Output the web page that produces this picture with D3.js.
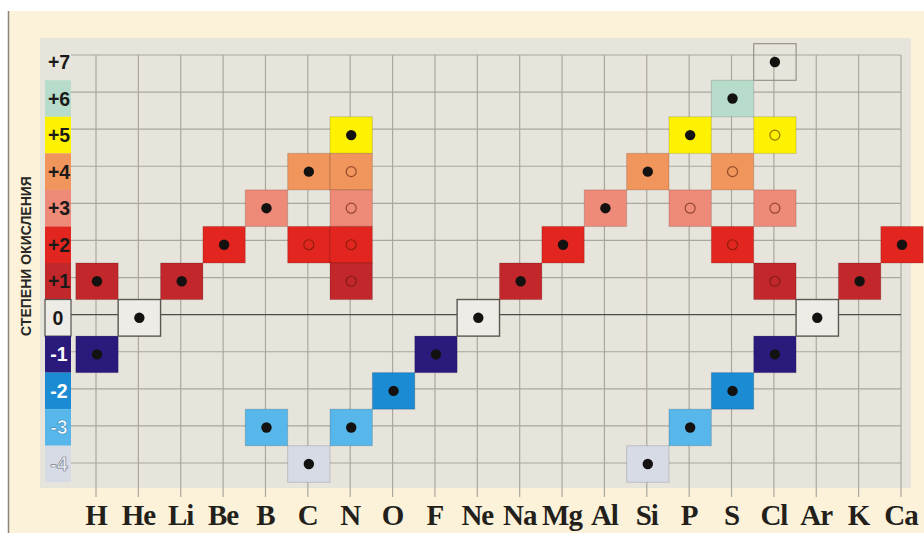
<!DOCTYPE html>
<html><head><meta charset="utf-8">
<script src="https://cdn.jsdelivr.net/npm/d3@7"></script>
<style>html,body{margin:0;padding:0;background:#fff;}svg{display:block;}</style>
</head><body>
<script>
// ---- data ----
const elements = ["H","He","Li","Be","B","C","N","O","F","Ne","Na","Mg","Al","Si","P","S","Cl","Ar","K","Ca"];
const states = [7,6,5,4,3,2,1,0,-1,-2,-3,-4];
const stateLabels = ["+7","+6","+5","+4","+3","+2","+1","0","-1","-2","-3","-4"];
const stateColors = ["none","#b7dccb","#fff200","#f0955c","#ee8a78","#e2261f","#c1272b","#eeece6","#2a1a7c","#1b8bd3","#57b7ea","#d6dbe6"];
// characteristic (filled dot) oxidation states per element
const filledStates = [[1,-1],[0],[1],[2],[3,-3],[4,-4],[5,-3],[-2],[-1],[0],[1],[2],[3],[4,-4],[5,-3],[6,-2],[7,-1],[0],[1],[2]];
// other (open circle) oxidation states per element
const openStates = [[],[],[],[],[],[2],[4,3,2,1],[],[],[],[],[],[],[],[3],[4,2],[5,3,1],[],[],[]];
const axisTitle = "СТЕПЕНИ ОКИСЛЕНИЯ";

// ---- layout ----
const W = 924, H = 533;
const svg = d3.select("body").append("svg").attr("width", W).attr("height", H);

const x = d3.scalePoint().domain(elements).range([96, 901]);
const y = d3.scalePoint().domain(states).range([62, 464]);
const yGrid = d3.scaleLinear().domain([7, -4]).range([55, 463]);
const cw = 42.4, ch = 36.6;
const colorOf = d3.scaleOrdinal().domain(states).range(stateColors);
const labelOf = d3.scaleOrdinal().domain(states).range(stateLabels);

// backgrounds
svg.append("rect").attr("x", 9).attr("y", 11).attr("width", W - 9).attr("height", H - 11).attr("fill", "#fcf2da");
svg.append("line").attr("x1", 8.5).attr("x2", 8.5).attr("y1", 11).attr("y2", H).attr("stroke", "#8a857c").attr("stroke-width", 1.5);
svg.append("rect").attr("x", 40).attr("y", 38).attr("width", 871).attr("height", 450).attr("fill", "#e7e5db");

// grid
const g = svg.append("g");
g.selectAll("line.v").data(elements).join("line")
  .attr("x1", d => x(d)).attr("x2", d => x(d))
  .attr("y1", yGrid(7)).attr("y2", 497)
  .attr("stroke", "#aaa79e").attr("stroke-width", 1.2);
g.selectAll("line.h").data(states).join("line")
  .attr("x1", 71).attr("x2", x("Ca"))
  .attr("y1", d => yGrid(d)).attr("y2", d => yGrid(d))
  .attr("stroke", d => d === 0 ? "#4e4c48" : "#aaa79e")
  .attr("stroke-width", d => d === 0 ? 1.3 : 1.2);

// left label column
const lab = svg.append("g");
lab.selectAll("rect").data(states.filter(s => s !== 7)).join("rect")
  .attr("x", 45).attr("width", 26)
  .attr("y", d => y(d) - ch / 2).attr("height", ch)
  .attr("fill", d => colorOf(d))
  .attr("stroke", d => d === 0 ? "#55524c" : "none").attr("stroke-width", 1.2);
lab.selectAll("text").data(states).join("text")
  .attr("x", d => d === 0 ? 58 : 59).attr("y", d => y(d) + 7)
  .attr("text-anchor", "middle")
  .attr("font-family", "Liberation Sans, Arial, sans-serif").attr("font-weight", "bold").attr("font-size", 19.5)
  .attr("fill", d => d < 0 ? (d === -4 ? "#eef0f4" : "#ffffff") : "#1c1a18")
  .attr("stroke", d => d === -4 ? "#7d8390" : (d === -3 ? "#3a8cc0" : "none"))
  .attr("stroke-width", 0.7)
  .text(d => labelOf(d));

svg.append("text")
  .attr("transform", "translate(31,256) rotate(-90)")
  .attr("text-anchor", "middle")
  .attr("font-family", "Liberation Sans, Arial, sans-serif").attr("font-weight", "bold").attr("font-size", 14)
  .attr("fill", "#2a2825")
  .text(axisTitle);

// cells
const cells = [];
elements.forEach((e, i) => {
  filledStates[i].forEach(s => cells.push({e, s, filled: true}));
  openStates[i].forEach(s => cells.push({e, s, filled: false}));
});
const cg = svg.append("g");
cg.selectAll("rect").data(cells).join("rect")
  .attr("x", d => x(d.e) + 1 - cw / 2).attr("y", d => y(d.s) - ch / 2)
  .attr("width", cw).attr("height", ch)
  .attr("fill", d => colorOf(d.s))
  .attr("stroke", d => d.s === 0 ? "#5a5750" : (d.s === 7 ? "#8f8c85" : "rgba(0,0,0,0.14)"))
  .attr("stroke-width", d => d.s === 0 ? 1.4 : 1.1);
cg.selectAll("circle").data(cells).join("circle")
  .attr("cx", d => x(d.e) + 1).attr("cy", d => y(d.s))
  .attr("r", d => d.filled ? 5.2 : 5)
  .attr("fill", d => d.filled ? "#141210" : "none")
  .attr("stroke", d => d.filled ? "none" : "rgba(90,25,0,0.6)")
  .attr("stroke-width", 1.2);

// element labels
svg.append("g").selectAll("text").data(elements).join("text")
  .attr("x", d => x(d)).attr("y", 525)
  .attr("text-anchor", "middle")
  .attr("font-family", "Liberation Serif, Times New Roman, serif").attr("font-weight", "bold").attr("font-size", 29)
  .attr("letter-spacing", -1)
  .attr("fill", "#231f1a")
  .text(d => d);
</script>
</body></html>
